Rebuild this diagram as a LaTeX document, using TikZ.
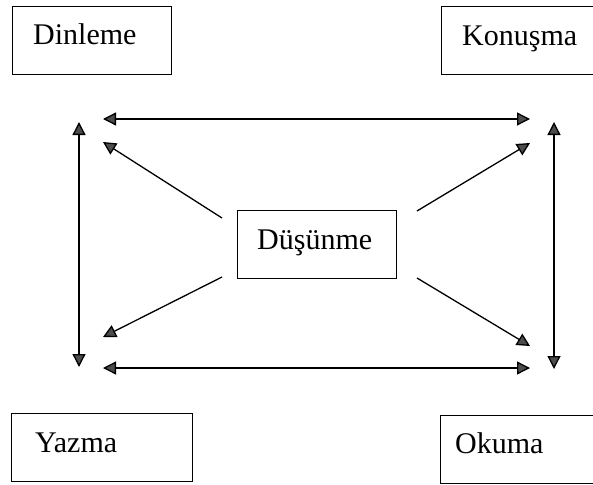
\documentclass[tikz,border=0pt]{standalone}
\usepackage{fontspec}
\setmainfont{Liberation Serif}
\usetikzlibrary{arrows.meta}
\begin{document}
\begin{tikzpicture}[x=1pt,y=-1pt,
  box/.style={draw=black,line width=1.4pt,minimum width=#1,minimum height=68pt,inner sep=0pt,anchor=north west},
  lbl/.style={anchor=base west,inner sep=0pt,font=\fontsize{30}{35}\selectfont},
  tip/.style={-{Triangle[length=13pt,width=13pt,fill=black!70]}},
  link/.style={draw=black,line width=1.3pt,tip},
  dlink/.style={draw=black,line width=1.3pt,{Triangle[length=13pt,width=13pt,fill=black!70]}-{Triangle[length=13pt,width=13pt,fill=black!70]}}]
\useasboundingbox (0,0) rectangle (593,484);
\clip (0,0) rectangle (593,484);
% boxes
\node[box=159pt] (dinB) at (12,6) {};
\node[lbl] (din) at (33,45) {Dinleme};
\node[box=170pt] (konB) at (441,6) {};
\node[lbl] (kon) at (462,46) {Konuşma};
\node[box=181pt] (yazB) at (11,413) {};
\node[lbl] (yaz) at (35,452) {Yazma};
\node[box=170pt] (okuB) at (440,415) {};
\node[lbl] (oku) at (455,453) {Okuma};
\node[box=159pt] (dusB) at (237,210) {};
\node[lbl] (dus) at (257,249) {Düşünme};
% arrow end points
\coordinate (tl) at (103,119);
\coordinate (tr) at (530,119);
\coordinate (bl) at (103,368);
\coordinate (br) at (530,368);
\coordinate (lv1) at (79,122);
\coordinate (lv2) at (79,367);
\coordinate (rv1) at (554,122);
\coordinate (rv2) at (554,369);
\coordinate (d1s) at (222,218);
\coordinate (d1e) at (103,142);
\coordinate (d2s) at (417,211);
\coordinate (d2e) at (530,143);
\coordinate (d3s) at (222,277);
\coordinate (d3e) at (103,337);
\coordinate (d4s) at (417,278);
\coordinate (d4e) at (530,346);
% connectors
\draw[dlink] (tl) -- (tr);
\draw[dlink] (bl) -- (br);
\draw[dlink] (lv1) -- (lv2);
\draw[dlink] (rv1) -- (rv2);
\draw[link] (d1s) -- (d1e);
\draw[link] (d2s) -- (d2e);
\draw[link] (d3s) -- (d3e);
\draw[link] (d4s) -- (d4e);
\end{tikzpicture}
\end{document}
